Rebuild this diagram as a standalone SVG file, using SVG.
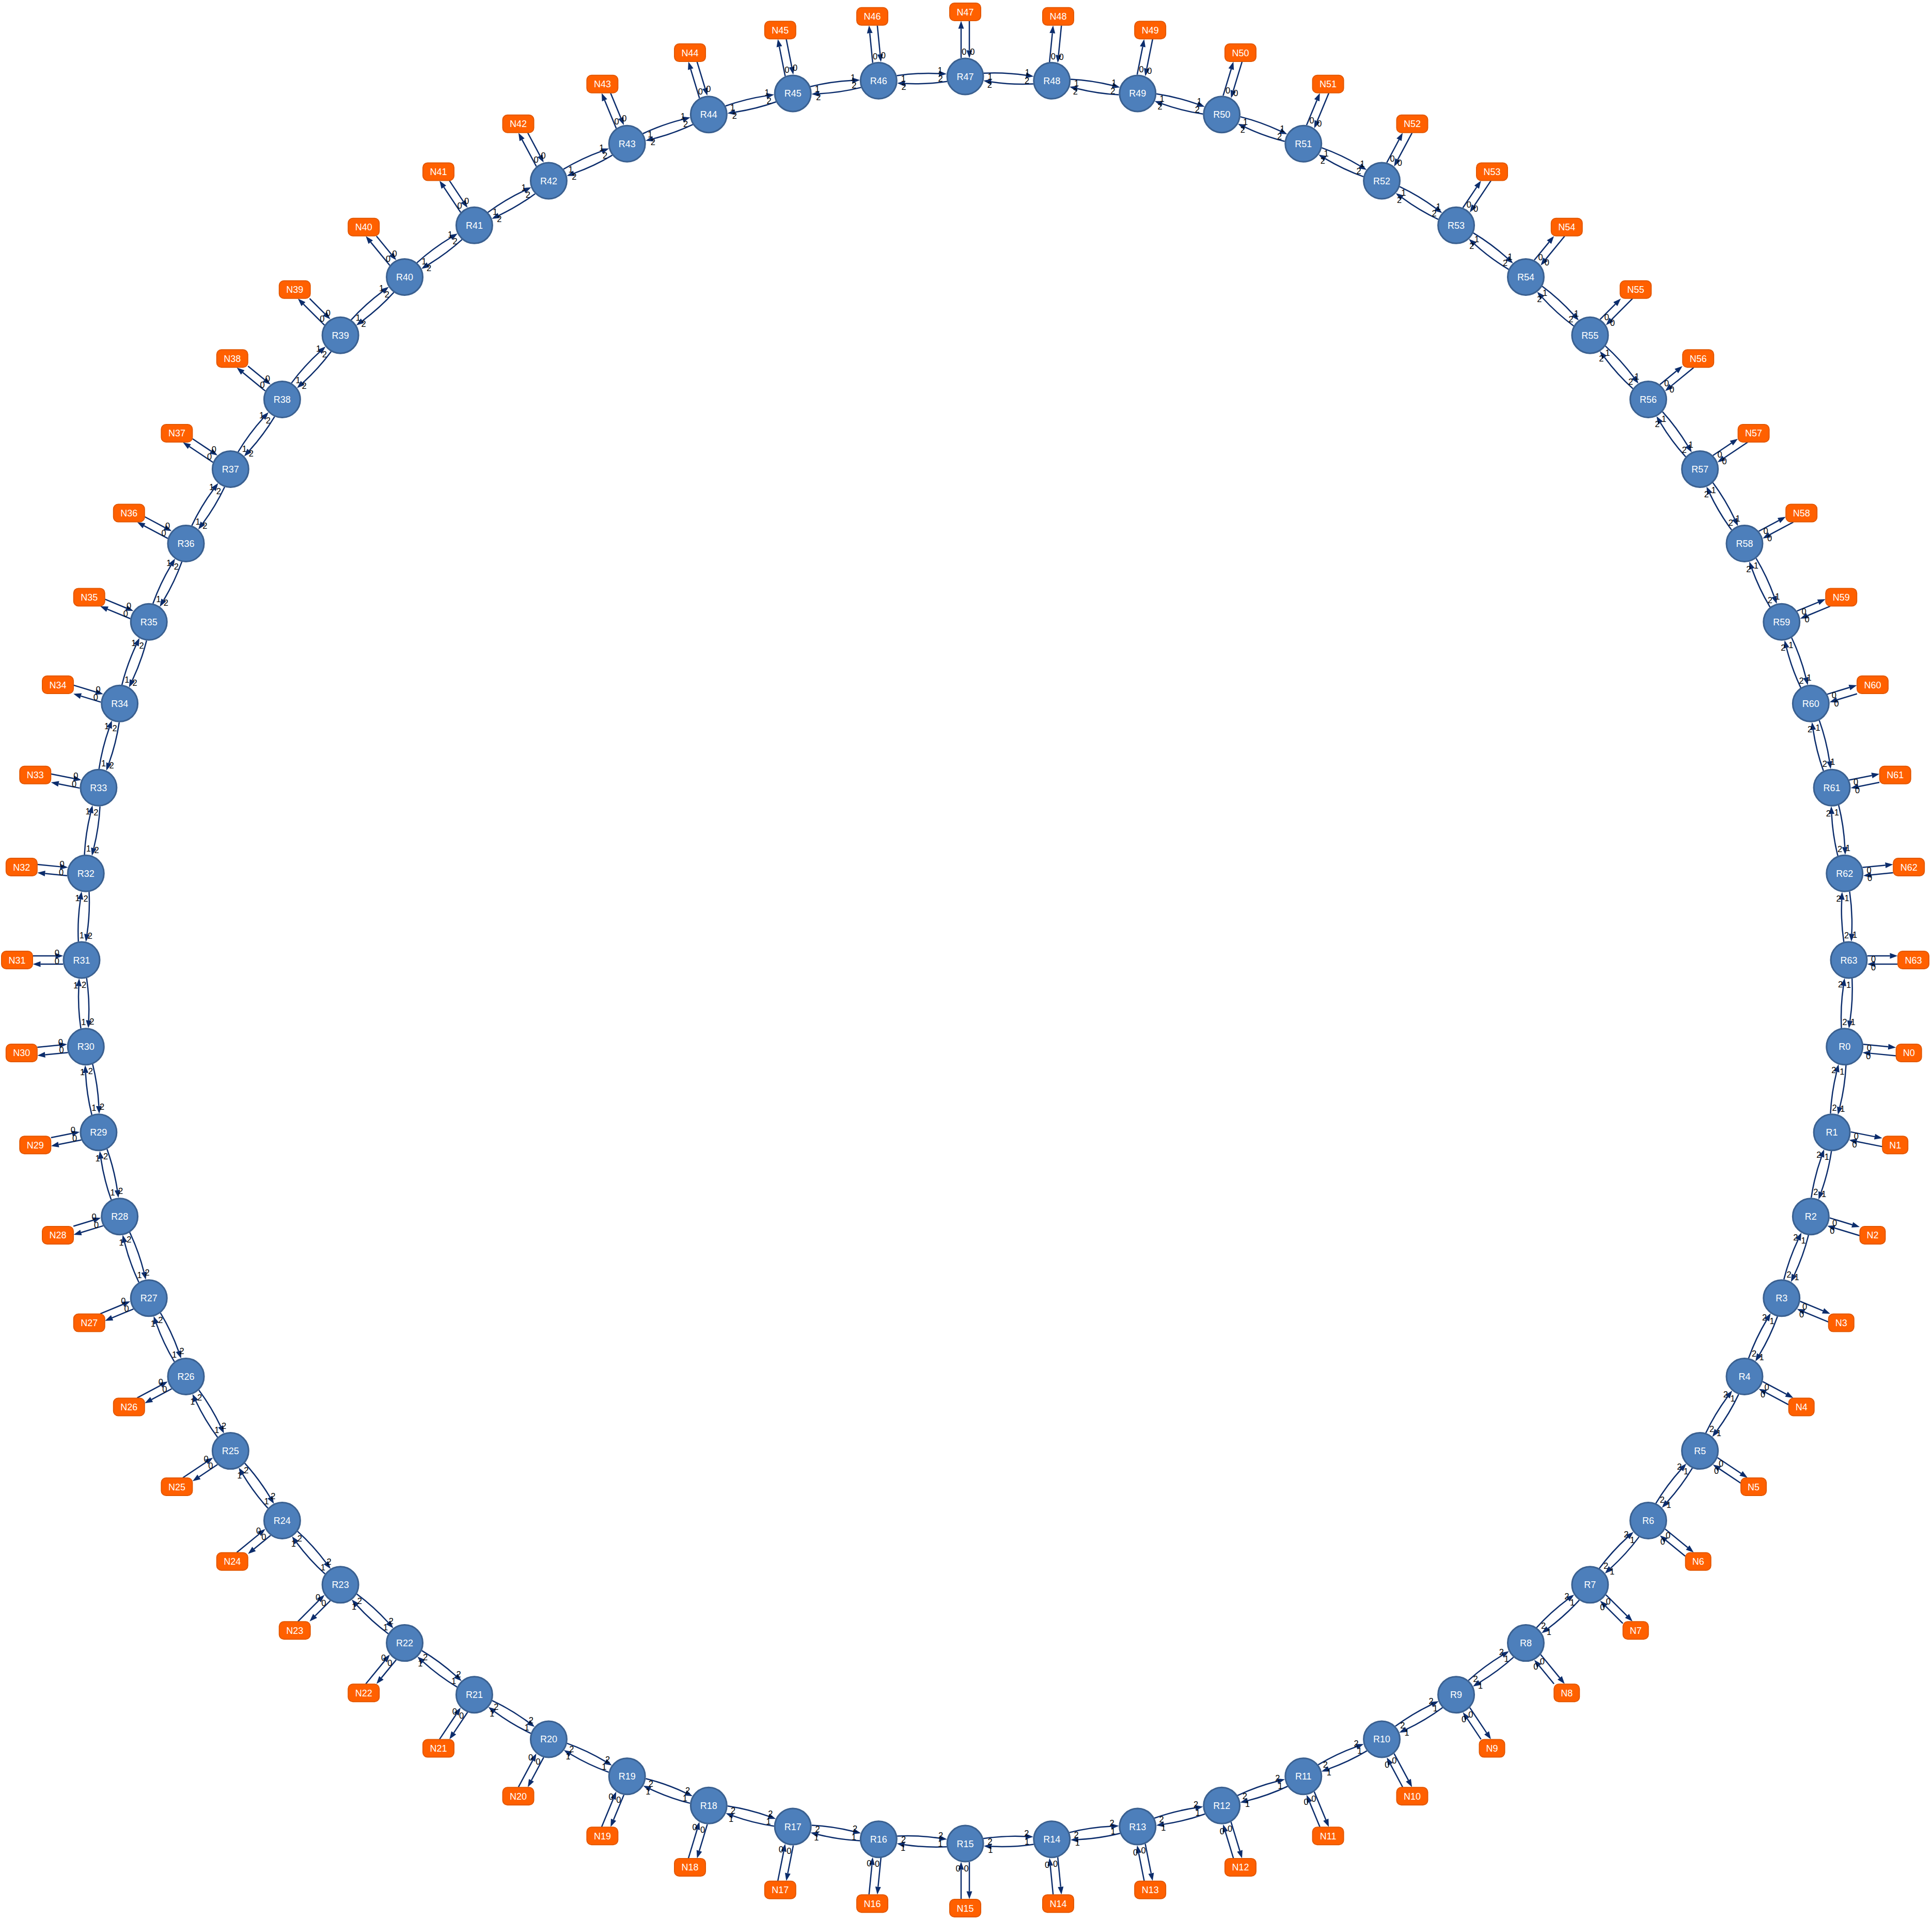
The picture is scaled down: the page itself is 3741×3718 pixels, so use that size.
<svg xmlns="http://www.w3.org/2000/svg" width="3741" height="3718" viewBox="0 0 3741 3718">
<defs>
<marker id="ah" markerUnits="userSpaceOnUse" markerWidth="15" markerHeight="11" viewBox="0 0 15 11" refX="0" refY="5.5" orient="auto" overflow="visible"><path d="M0,0 L15,5.5 L0,11 Z" fill="#0c2d6c"/></marker>
</defs>
<style>
.r circle{fill:#4d7fbb;stroke:#3a6090;stroke-width:3}
.r text,.n text{font-family:"Liberation Sans",Arial,sans-serif;font-size:18px;fill:#ffffff;text-anchor:middle}
.n rect{fill:#ff6000;stroke:#e35700;stroke-width:2}
.e{fill:none;stroke:#0c2d6c;stroke-width:2.5;marker-end:url(#ah)}
#connectors text{font-family:"Liberation Sans",Arial,sans-serif;font-size:16.5px;fill:#000000;text-anchor:middle}
</style>
<rect width="3741" height="3718" fill="#ffffff"/>
<g id="connectors" transform="translate(1869 1859)">
<g transform="rotate(5.625)"><path class="e" d="M1717.25,35.85Q1719.24,76.96 1713.23,117.67"/><path class="e" d="M1696.51,131.86Q1694.52,90.75 1700.53,50.04"/><path class="e" d="M1746.6,-8H1795.1"/><path class="e" d="M1811.7,8H1761.6"/><text y="6" transform="translate(1710.7 48.2) rotate(-5.625)">1</text><text y="6" transform="translate(1719 120.3) rotate(-5.625)">1</text><text y="6" transform="translate(1703 119.5) rotate(-5.625)">2</text><text y="6" transform="translate(1694.7 47.4) rotate(-5.625)">2</text><text y="6" transform="translate(1758.7 -2.1) rotate(-5.625)">0</text><text y="6" transform="translate(1758.7 13.9) rotate(-5.625)">0</text></g>
<g transform="rotate(11.25)"><path class="e" d="M1717.25,35.85Q1719.24,76.96 1713.23,117.67"/><path class="e" d="M1696.51,131.86Q1694.52,90.75 1700.53,50.04"/><path class="e" d="M1746.6,-8H1793.9"/><path class="e" d="M1812.1,8H1761.6"/><text y="6" transform="translate(1710.7 48.2) rotate(-11.25)">1</text><text y="6" transform="translate(1719 120.3) rotate(-11.25)">1</text><text y="6" transform="translate(1703 119.5) rotate(-11.25)">2</text><text y="6" transform="translate(1694.7 47.4) rotate(-11.25)">2</text><text y="6" transform="translate(1758.7 -2.1) rotate(-11.25)">0</text><text y="6" transform="translate(1758.7 13.9) rotate(-11.25)">0</text></g>
<g transform="rotate(16.875)"><path class="e" d="M1717.25,35.85Q1719.24,76.96 1713.23,117.67"/><path class="e" d="M1696.51,131.86Q1694.52,90.75 1700.53,50.04"/><path class="e" d="M1746.6,-8H1792.5"/><path class="e" d="M1812.3,8H1761.6"/><text y="6" transform="translate(1710.7 48.2) rotate(-16.875)">1</text><text y="6" transform="translate(1719 120.3) rotate(-16.875)">1</text><text y="6" transform="translate(1703 119.5) rotate(-16.875)">2</text><text y="6" transform="translate(1694.7 47.4) rotate(-16.875)">2</text><text y="6" transform="translate(1758.7 -2.1) rotate(-16.875)">0</text><text y="6" transform="translate(1758.7 13.9) rotate(-16.875)">0</text></g>
<g transform="rotate(22.5)"><path class="e" d="M1717.25,35.85Q1719.24,76.96 1713.23,117.67"/><path class="e" d="M1696.51,131.86Q1694.52,90.75 1700.53,50.04"/><path class="e" d="M1746.6,-8H1794.6"/><path class="e" d="M1812.3,8H1761.6"/><text y="6" transform="translate(1710.7 48.2) rotate(-22.5)">1</text><text y="6" transform="translate(1719 120.3) rotate(-22.5)">1</text><text y="6" transform="translate(1703 119.5) rotate(-22.5)">2</text><text y="6" transform="translate(1694.7 47.4) rotate(-22.5)">2</text><text y="6" transform="translate(1758.7 -2.1) rotate(-22.5)">0</text><text y="6" transform="translate(1758.7 13.9) rotate(-22.5)">0</text></g>
<g transform="rotate(28.125)"><path class="e" d="M1717.25,35.85Q1719.24,76.96 1713.23,117.67"/><path class="e" d="M1696.51,131.86Q1694.52,90.75 1700.53,50.04"/><path class="e" d="M1746.6,-8H1798.8"/><path class="e" d="M1811.9,8H1761.6"/><text y="6" transform="translate(1710.7 48.2) rotate(-28.125)">1</text><text y="6" transform="translate(1719 120.3) rotate(-28.125)">1</text><text y="6" transform="translate(1703 119.5) rotate(-28.125)">2</text><text y="6" transform="translate(1694.7 47.4) rotate(-28.125)">2</text><text y="6" transform="translate(1758.7 -2.1) rotate(-28.125)">0</text><text y="6" transform="translate(1758.7 13.9) rotate(-28.125)">0</text></g>
<g transform="rotate(33.75)"><path class="e" d="M1717.25,35.85Q1719.24,76.96 1713.23,117.67"/><path class="e" d="M1696.51,131.86Q1694.52,90.75 1700.53,50.04"/><path class="e" d="M1746.6,-8H1801.5"/><path class="e" d="M1811.3,8H1761.6"/><text y="6" transform="translate(1710.7 48.2) rotate(-33.75)">1</text><text y="6" transform="translate(1719 120.3) rotate(-33.75)">1</text><text y="6" transform="translate(1703 119.5) rotate(-33.75)">2</text><text y="6" transform="translate(1694.7 47.4) rotate(-33.75)">2</text><text y="6" transform="translate(1758.7 -2.1) rotate(-33.75)">0</text><text y="6" transform="translate(1758.7 13.9) rotate(-33.75)">0</text></g>
<g transform="rotate(39.375)"><path class="e" d="M1717.25,35.85Q1719.24,76.96 1713.23,117.67"/><path class="e" d="M1696.51,131.86Q1694.52,90.75 1700.53,50.04"/><path class="e" d="M1746.6,-8H1803.2"/><path class="e" d="M1810.2,8H1761.6"/><text y="6" transform="translate(1710.7 48.2) rotate(-39.375)">1</text><text y="6" transform="translate(1719 120.3) rotate(-39.375)">1</text><text y="6" transform="translate(1703 119.5) rotate(-39.375)">2</text><text y="6" transform="translate(1694.7 47.4) rotate(-39.375)">2</text><text y="6" transform="translate(1758.7 -2.1) rotate(-39.375)">0</text><text y="6" transform="translate(1758.7 13.9) rotate(-39.375)">0</text></g>
<g transform="rotate(45)"><path class="e" d="M1717.25,35.85Q1719.24,76.96 1713.23,117.67"/><path class="e" d="M1696.51,131.86Q1694.52,90.75 1700.53,50.04"/><path class="e" d="M1746.6,-8H1804.3"/><path class="e" d="M1808.7,8H1761.6"/><text y="6" transform="translate(1710.7 48.2) rotate(-45)">1</text><text y="6" transform="translate(1719 120.3) rotate(-45)">1</text><text y="6" transform="translate(1703 119.5) rotate(-45)">2</text><text y="6" transform="translate(1694.7 47.4) rotate(-45)">2</text><text y="6" transform="translate(1758.7 -2.1) rotate(-45)">0</text><text y="6" transform="translate(1758.7 13.9) rotate(-45)">0</text></g>
<g transform="rotate(50.625)"><path class="e" d="M1717.25,35.85Q1719.24,76.96 1713.23,117.67"/><path class="e" d="M1696.51,131.86Q1694.52,90.75 1700.53,50.04"/><path class="e" d="M1746.6,-8H1804.9"/><path class="e" d="M1806.8,8H1761.6"/><text y="6" transform="translate(1710.7 48.2) rotate(-50.625)">1</text><text y="6" transform="translate(1719 120.3) rotate(-50.625)">1</text><text y="6" transform="translate(1703 119.5) rotate(-50.625)">2</text><text y="6" transform="translate(1694.7 47.4) rotate(-50.625)">2</text><text y="6" transform="translate(1758.7 -2.1) rotate(-50.625)">0</text><text y="6" transform="translate(1758.7 13.9) rotate(-50.625)">0</text></g>
<g transform="rotate(56.25)"><path class="e" d="M1717.25,35.85Q1719.24,76.96 1713.23,117.67"/><path class="e" d="M1696.51,131.86Q1694.52,90.75 1700.53,50.04"/><path class="e" d="M1746.6,-8H1805.3"/><path class="e" d="M1809.6,8H1761.6"/><text y="6" transform="translate(1710.7 48.2) rotate(-56.25)">1</text><text y="6" transform="translate(1719 120.3) rotate(-56.25)">1</text><text y="6" transform="translate(1703 119.5) rotate(-56.25)">2</text><text y="6" transform="translate(1694.7 47.4) rotate(-56.25)">2</text><text y="6" transform="translate(1758.7 -2.1) rotate(-56.25)">0</text><text y="6" transform="translate(1758.7 13.9) rotate(-56.25)">0</text></g>
<g transform="rotate(61.875)"><path class="e" d="M1717.25,35.85Q1719.24,76.96 1713.23,117.67"/><path class="e" d="M1696.51,131.86Q1694.52,90.75 1700.53,50.04"/><path class="e" d="M1746.6,-8H1805.4"/><path class="e" d="M1811.9,8H1761.6"/><text y="6" transform="translate(1710.7 48.2) rotate(-61.875)">1</text><text y="6" transform="translate(1719 120.3) rotate(-61.875)">1</text><text y="6" transform="translate(1703 119.5) rotate(-61.875)">2</text><text y="6" transform="translate(1694.7 47.4) rotate(-61.875)">2</text><text y="6" transform="translate(1758.7 -2.1) rotate(-61.875)">0</text><text y="6" transform="translate(1758.7 13.9) rotate(-61.875)">0</text></g>
<g transform="rotate(67.5)"><path class="e" d="M1717.25,35.85Q1719.24,76.96 1713.23,117.67"/><path class="e" d="M1696.51,131.86Q1694.52,90.75 1700.53,50.04"/><path class="e" d="M1746.6,-8H1805.4"/><path class="e" d="M1813.7,8H1761.6"/><text y="6" transform="translate(1710.7 48.2) rotate(-67.5)">1</text><text y="6" transform="translate(1719 120.3) rotate(-67.5)">1</text><text y="6" transform="translate(1703 119.5) rotate(-67.5)">2</text><text y="6" transform="translate(1694.7 47.4) rotate(-67.5)">2</text><text y="6" transform="translate(1758.7 -2.1) rotate(-67.5)">0</text><text y="6" transform="translate(1758.7 13.9) rotate(-67.5)">0</text></g>
<g transform="rotate(73.125)"><path class="e" d="M1717.25,35.85Q1719.24,76.96 1713.23,117.67"/><path class="e" d="M1696.51,131.86Q1694.52,90.75 1700.53,50.04"/><path class="e" d="M1746.6,-8H1805.1"/><path class="e" d="M1815.3,8H1761.6"/><text y="6" transform="translate(1710.7 48.2) rotate(-73.125)">1</text><text y="6" transform="translate(1719 120.3) rotate(-73.125)">1</text><text y="6" transform="translate(1703 119.5) rotate(-73.125)">2</text><text y="6" transform="translate(1694.7 47.4) rotate(-73.125)">2</text><text y="6" transform="translate(1758.7 -2.1) rotate(-73.125)">0</text><text y="6" transform="translate(1758.7 13.9) rotate(-73.125)">0</text></g>
<g transform="rotate(78.75)"><path class="e" d="M1717.25,35.85Q1719.24,76.96 1713.23,117.67"/><path class="e" d="M1696.51,131.86Q1694.52,90.75 1700.53,50.04"/><path class="e" d="M1746.6,-8H1804.8"/><path class="e" d="M1816.6,8H1761.6"/><text y="6" transform="translate(1710.7 48.2) rotate(-78.75)">1</text><text y="6" transform="translate(1719 120.3) rotate(-78.75)">1</text><text y="6" transform="translate(1703 119.5) rotate(-78.75)">2</text><text y="6" transform="translate(1694.7 47.4) rotate(-78.75)">2</text><text y="6" transform="translate(1758.7 -2.1) rotate(-78.75)">0</text><text y="6" transform="translate(1758.7 13.9) rotate(-78.75)">0</text></g>
<g transform="rotate(84.375)"><path class="e" d="M1717.25,35.85Q1719.24,76.96 1713.23,117.67"/><path class="e" d="M1696.51,131.86Q1694.52,90.75 1700.53,50.04"/><path class="e" d="M1746.6,-8H1804.2"/><path class="e" d="M1817.6,8H1761.6"/><text y="6" transform="translate(1710.7 48.2) rotate(-84.375)">1</text><text y="6" transform="translate(1719 120.3) rotate(-84.375)">1</text><text y="6" transform="translate(1703 119.5) rotate(-84.375)">2</text><text y="6" transform="translate(1694.7 47.4) rotate(-84.375)">2</text><text y="6" transform="translate(1758.7 -2.1) rotate(-84.375)">0</text><text y="6" transform="translate(1758.7 13.9) rotate(-84.375)">0</text></g>
<g transform="rotate(90)"><path class="e" d="M1717.25,35.85Q1719.24,76.96 1713.23,117.67"/><path class="e" d="M1696.51,131.86Q1694.52,90.75 1700.53,50.04"/><path class="e" d="M1746.6,-8H1803.5"/><path class="e" d="M1818.5,8H1761.6"/><text y="6" transform="translate(1710.7 48.2) rotate(-90)">1</text><text y="6" transform="translate(1719 120.3) rotate(-90)">1</text><text y="6" transform="translate(1703 119.5) rotate(-90)">2</text><text y="6" transform="translate(1694.7 47.4) rotate(-90)">2</text><text y="6" transform="translate(1758.7 -2.1) rotate(-90)">0</text><text y="6" transform="translate(1758.7 13.9) rotate(-90)">0</text></g>
<g transform="rotate(95.625)"><path class="e" d="M1717.25,35.85Q1719.24,76.96 1713.23,117.67"/><path class="e" d="M1696.51,131.86Q1694.52,90.75 1700.53,50.04"/><path class="e" d="M1746.6,-8H1802.6"/><path class="e" d="M1819.2,8H1761.6"/><text y="6" transform="translate(1710.7 48.2) rotate(-95.625)">1</text><text y="6" transform="translate(1719 120.3) rotate(-95.625)">1</text><text y="6" transform="translate(1703 119.5) rotate(-95.625)">2</text><text y="6" transform="translate(1694.7 47.4) rotate(-95.625)">2</text><text y="6" transform="translate(1758.7 -2.1) rotate(-95.625)">0</text><text y="6" transform="translate(1758.7 13.9) rotate(-95.625)">0</text></g>
<g transform="rotate(101.25)"><path class="e" d="M1717.25,35.85Q1719.24,76.96 1713.23,117.67"/><path class="e" d="M1696.51,131.86Q1694.52,90.75 1700.53,50.04"/><path class="e" d="M1746.6,-8H1801.6"/><path class="e" d="M1819.8,8H1761.6"/><text y="6" transform="translate(1710.7 48.2) rotate(-101.25)">1</text><text y="6" transform="translate(1719 120.3) rotate(-101.25)">1</text><text y="6" transform="translate(1703 119.5) rotate(-101.25)">2</text><text y="6" transform="translate(1694.7 47.4) rotate(-101.25)">2</text><text y="6" transform="translate(1758.7 -2.1) rotate(-101.25)">0</text><text y="6" transform="translate(1758.7 13.9) rotate(-101.25)">0</text></g>
<g transform="rotate(106.875)"><path class="e" d="M1717.25,35.85Q1719.24,76.96 1713.23,117.67"/><path class="e" d="M1696.51,131.86Q1694.52,90.75 1700.53,50.04"/><path class="e" d="M1746.6,-8H1800.3"/><path class="e" d="M1820.1,8H1761.6"/><text y="6" transform="translate(1710.7 48.2) rotate(-106.875)">1</text><text y="6" transform="translate(1719 120.3) rotate(-106.875)">1</text><text y="6" transform="translate(1703 119.5) rotate(-106.875)">2</text><text y="6" transform="translate(1694.7 47.4) rotate(-106.875)">2</text><text y="6" transform="translate(1758.7 -2.1) rotate(-106.875)">0</text><text y="6" transform="translate(1758.7 13.9) rotate(-106.875)">0</text></g>
<g transform="rotate(112.5)"><path class="e" d="M1717.25,35.85Q1719.24,76.96 1713.23,117.67"/><path class="e" d="M1696.51,131.86Q1694.52,90.75 1700.53,50.04"/><path class="e" d="M1746.6,-8H1798.7"/><path class="e" d="M1820.4,8H1761.6"/><text y="6" transform="translate(1710.7 48.2) rotate(-112.5)">1</text><text y="6" transform="translate(1719 120.3) rotate(-112.5)">1</text><text y="6" transform="translate(1703 119.5) rotate(-112.5)">2</text><text y="6" transform="translate(1694.7 47.4) rotate(-112.5)">2</text><text y="6" transform="translate(1758.7 -2.1) rotate(-112.5)">0</text><text y="6" transform="translate(1758.7 13.9) rotate(-112.5)">0</text></g>
<g transform="rotate(118.125)"><path class="e" d="M1717.25,35.85Q1719.24,76.96 1713.23,117.67"/><path class="e" d="M1696.51,131.86Q1694.52,90.75 1700.53,50.04"/><path class="e" d="M1746.6,-8H1796.9"/><path class="e" d="M1820.4,8H1761.6"/><text y="6" transform="translate(1710.7 48.2) rotate(-118.125)">1</text><text y="6" transform="translate(1719 120.3) rotate(-118.125)">1</text><text y="6" transform="translate(1703 119.5) rotate(-118.125)">2</text><text y="6" transform="translate(1694.7 47.4) rotate(-118.125)">2</text><text y="6" transform="translate(1758.7 -2.1) rotate(-118.125)">0</text><text y="6" transform="translate(1758.7 13.9) rotate(-118.125)">0</text></g>
<g transform="rotate(123.75)"><path class="e" d="M1717.25,35.85Q1719.24,76.96 1713.23,117.67"/><path class="e" d="M1696.51,131.86Q1694.52,90.75 1700.53,50.04"/><path class="e" d="M1746.6,-8H1794.6"/><path class="e" d="M1820.3,8H1761.6"/><text y="6" transform="translate(1710.7 48.2) rotate(-123.75)">1</text><text y="6" transform="translate(1719 120.3) rotate(-123.75)">1</text><text y="6" transform="translate(1703 119.5) rotate(-123.75)">2</text><text y="6" transform="translate(1694.7 47.4) rotate(-123.75)">2</text><text y="6" transform="translate(1758.7 -2.1) rotate(-123.75)">0</text><text y="6" transform="translate(1758.7 13.9) rotate(-123.75)">0</text></g>
<g transform="rotate(129.375)"><path class="e" d="M1717.25,35.85Q1719.24,76.96 1713.23,117.67"/><path class="e" d="M1696.51,131.86Q1694.52,90.75 1700.53,50.04"/><path class="e" d="M1746.6,-8H1791.8"/><path class="e" d="M1819.9,8H1761.6"/><text y="6" transform="translate(1710.7 48.2) rotate(-129.375)">1</text><text y="6" transform="translate(1719 120.3) rotate(-129.375)">1</text><text y="6" transform="translate(1703 119.5) rotate(-129.375)">2</text><text y="6" transform="translate(1694.7 47.4) rotate(-129.375)">2</text><text y="6" transform="translate(1758.7 -2.1) rotate(-129.375)">0</text><text y="6" transform="translate(1758.7 13.9) rotate(-129.375)">0</text></g>
<g transform="rotate(135)"><path class="e" d="M1717.25,35.85Q1719.24,76.96 1713.23,117.67"/><path class="e" d="M1696.51,131.86Q1694.52,90.75 1700.53,50.04"/><path class="e" d="M1746.6,-8H1788.3"/><path class="e" d="M1819.3,8H1761.6"/><text y="6" transform="translate(1710.7 48.2) rotate(-135)">1</text><text y="6" transform="translate(1719 120.3) rotate(-135)">1</text><text y="6" transform="translate(1703 119.5) rotate(-135)">2</text><text y="6" transform="translate(1694.7 47.4) rotate(-135)">2</text><text y="6" transform="translate(1758.7 -2.1) rotate(-135)">0</text><text y="6" transform="translate(1758.7 13.9) rotate(-135)">0</text></g>
<g transform="rotate(140.625)"><path class="e" d="M1717.25,35.85Q1719.24,76.96 1713.23,117.67"/><path class="e" d="M1696.51,131.86Q1694.52,90.75 1700.53,50.04"/><path class="e" d="M1746.6,-8H1788.1"/><path class="e" d="M1818.2,8H1761.6"/><text y="6" transform="translate(1710.7 48.2) rotate(-140.625)">1</text><text y="6" transform="translate(1719 120.3) rotate(-140.625)">1</text><text y="6" transform="translate(1703 119.5) rotate(-140.625)">2</text><text y="6" transform="translate(1694.7 47.4) rotate(-140.625)">2</text><text y="6" transform="translate(1758.7 -2.1) rotate(-140.625)">0</text><text y="6" transform="translate(1758.7 13.9) rotate(-140.625)">0</text></g>
<g transform="rotate(146.25)"><path class="e" d="M1717.25,35.85Q1719.24,76.96 1713.23,117.67"/><path class="e" d="M1696.51,131.86Q1694.52,90.75 1700.53,50.04"/><path class="e" d="M1746.6,-8H1789.7"/><path class="e" d="M1816.5,8H1761.6"/><text y="6" transform="translate(1710.7 48.2) rotate(-146.25)">1</text><text y="6" transform="translate(1719 120.3) rotate(-146.25)">1</text><text y="6" transform="translate(1703 119.5) rotate(-146.25)">2</text><text y="6" transform="translate(1694.7 47.4) rotate(-146.25)">2</text><text y="6" transform="translate(1758.7 -2.1) rotate(-146.25)">0</text><text y="6" transform="translate(1758.7 13.9) rotate(-146.25)">0</text></g>
<g transform="rotate(151.875)"><path class="e" d="M1717.25,35.85Q1719.24,76.96 1713.23,117.67"/><path class="e" d="M1696.51,131.86Q1694.52,90.75 1700.53,50.04"/><path class="e" d="M1746.6,-8H1790.7"/><path class="e" d="M1813.8,8H1761.6"/><text y="6" transform="translate(1710.7 48.2) rotate(-151.875)">1</text><text y="6" transform="translate(1719 120.3) rotate(-151.875)">1</text><text y="6" transform="translate(1703 119.5) rotate(-151.875)">2</text><text y="6" transform="translate(1694.7 47.4) rotate(-151.875)">2</text><text y="6" transform="translate(1758.7 -2.1) rotate(-151.875)">0</text><text y="6" transform="translate(1758.7 13.9) rotate(-151.875)">0</text></g>
<g transform="rotate(157.5)"><path class="e" d="M1717.25,35.85Q1719.24,76.96 1713.23,117.67"/><path class="e" d="M1696.51,131.86Q1694.52,90.75 1700.53,50.04"/><path class="e" d="M1746.6,-8H1791.3"/><path class="e" d="M1809.6,8H1761.6"/><text y="6" transform="translate(1710.7 48.2) rotate(-157.5)">1</text><text y="6" transform="translate(1719 120.3) rotate(-157.5)">1</text><text y="6" transform="translate(1703 119.5) rotate(-157.5)">2</text><text y="6" transform="translate(1694.7 47.4) rotate(-157.5)">2</text><text y="6" transform="translate(1758.7 -2.1) rotate(-157.5)">0</text><text y="6" transform="translate(1758.7 13.9) rotate(-157.5)">0</text></g>
<g transform="rotate(163.125)"><path class="e" d="M1717.25,35.85Q1719.24,76.96 1713.23,117.67"/><path class="e" d="M1696.51,131.86Q1694.52,90.75 1700.53,50.04"/><path class="e" d="M1746.6,-8H1791.6"/><path class="e" d="M1802.1,8H1761.6"/><text y="6" transform="translate(1710.7 48.2) rotate(-163.125)">1</text><text y="6" transform="translate(1719 120.3) rotate(-163.125)">1</text><text y="6" transform="translate(1703 119.5) rotate(-163.125)">2</text><text y="6" transform="translate(1694.7 47.4) rotate(-163.125)">2</text><text y="6" transform="translate(1758.7 -2.1) rotate(-163.125)">0</text><text y="6" transform="translate(1758.7 13.9) rotate(-163.125)">0</text></g>
<g transform="rotate(168.75)"><path class="e" d="M1717.25,35.85Q1719.24,76.96 1713.23,117.67"/><path class="e" d="M1696.51,131.86Q1694.52,90.75 1700.53,50.04"/><path class="e" d="M1746.6,-8H1791.5"/><path class="e" d="M1803.3,8H1761.6"/><text y="6" transform="translate(1710.7 48.2) rotate(-168.75)">1</text><text y="6" transform="translate(1719 120.3) rotate(-168.75)">1</text><text y="6" transform="translate(1703 119.5) rotate(-168.75)">2</text><text y="6" transform="translate(1694.7 47.4) rotate(-168.75)">2</text><text y="6" transform="translate(1758.7 -2.1) rotate(-168.75)">0</text><text y="6" transform="translate(1758.7 13.9) rotate(-168.75)">0</text></g>
<g transform="rotate(174.375)"><path class="e" d="M1717.25,35.85Q1719.24,76.96 1713.23,117.67"/><path class="e" d="M1696.51,131.86Q1694.52,90.75 1700.53,50.04"/><path class="e" d="M1746.6,-8H1791.1"/><path class="e" d="M1804.6,8H1761.6"/><text y="6" transform="translate(1710.7 48.2) rotate(-174.375)">1</text><text y="6" transform="translate(1719 120.3) rotate(-174.375)">1</text><text y="6" transform="translate(1703 119.5) rotate(-174.375)">2</text><text y="6" transform="translate(1694.7 47.4) rotate(-174.375)">2</text><text y="6" transform="translate(1758.7 -2.1) rotate(-174.375)">0</text><text y="6" transform="translate(1758.7 13.9) rotate(-174.375)">0</text></g>
<g transform="rotate(180)"><path class="e" d="M1717.25,35.85Q1719.24,76.96 1713.23,117.67"/><path class="e" d="M1696.51,131.86Q1694.52,90.75 1700.53,50.04"/><path class="e" d="M1746.6,-8H1790.5"/><path class="e" d="M1805.5,8H1761.6"/><text y="6" transform="translate(1710.7 48.2) rotate(-180)">1</text><text y="6" transform="translate(1719 120.3) rotate(-180)">1</text><text y="6" transform="translate(1703 119.5) rotate(-180)">2</text><text y="6" transform="translate(1694.7 47.4) rotate(-180)">2</text><text y="6" transform="translate(1758.7 -2.1) rotate(-180)">0</text><text y="6" transform="translate(1758.7 13.9) rotate(-180)">0</text></g>
<g transform="rotate(185.625)"><path class="e" d="M1717.25,35.85Q1719.24,76.96 1713.23,117.67"/><path class="e" d="M1696.51,131.86Q1694.52,90.75 1700.53,50.04"/><path class="e" d="M1746.6,-8H1789.6"/><path class="e" d="M1806.1,8H1761.6"/><text y="6" transform="translate(1710.7 48.2) rotate(-185.625)">1</text><text y="6" transform="translate(1719 120.3) rotate(-185.625)">1</text><text y="6" transform="translate(1703 119.5) rotate(-185.625)">2</text><text y="6" transform="translate(1694.7 47.4) rotate(-185.625)">2</text><text y="6" transform="translate(1758.7 -2.1) rotate(-185.625)">0</text><text y="6" transform="translate(1758.7 13.9) rotate(-185.625)">0</text></g>
<g transform="rotate(191.25)"><path class="e" d="M1717.25,35.85Q1719.24,76.96 1713.23,117.67"/><path class="e" d="M1696.51,131.86Q1694.52,90.75 1700.53,50.04"/><path class="e" d="M1746.6,-8H1788.3"/><path class="e" d="M1806.5,8H1761.6"/><text y="6" transform="translate(1710.7 48.2) rotate(-191.25)">1</text><text y="6" transform="translate(1719 120.3) rotate(-191.25)">1</text><text y="6" transform="translate(1703 119.5) rotate(-191.25)">2</text><text y="6" transform="translate(1694.7 47.4) rotate(-191.25)">2</text><text y="6" transform="translate(1758.7 -2.1) rotate(-191.25)">0</text><text y="6" transform="translate(1758.7 13.9) rotate(-191.25)">0</text></g>
<g transform="rotate(196.875)"><path class="e" d="M1717.25,35.85Q1719.24,76.96 1713.23,117.67"/><path class="e" d="M1696.51,131.86Q1694.52,90.75 1700.53,50.04"/><path class="e" d="M1746.6,-8H1787.1"/><path class="e" d="M1806.6,8H1761.6"/><text y="6" transform="translate(1710.7 48.2) rotate(-196.875)">1</text><text y="6" transform="translate(1719 120.3) rotate(-196.875)">1</text><text y="6" transform="translate(1703 119.5) rotate(-196.875)">2</text><text y="6" transform="translate(1694.7 47.4) rotate(-196.875)">2</text><text y="6" transform="translate(1758.7 -2.1) rotate(-196.875)">0</text><text y="6" transform="translate(1758.7 13.9) rotate(-196.875)">0</text></g>
<g transform="rotate(202.5)"><path class="e" d="M1717.25,35.85Q1719.24,76.96 1713.23,117.67"/><path class="e" d="M1696.51,131.86Q1694.52,90.75 1700.53,50.04"/><path class="e" d="M1746.6,-8H1794.6"/><path class="e" d="M1806.3,8H1761.6"/><text y="6" transform="translate(1710.7 48.2) rotate(-202.5)">1</text><text y="6" transform="translate(1719 120.3) rotate(-202.5)">1</text><text y="6" transform="translate(1703 119.5) rotate(-202.5)">2</text><text y="6" transform="translate(1694.7 47.4) rotate(-202.5)">2</text><text y="6" transform="translate(1758.7 -2.1) rotate(-202.5)">0</text><text y="6" transform="translate(1758.7 13.9) rotate(-202.5)">0</text></g>
<g transform="rotate(208.125)"><path class="e" d="M1717.25,35.85Q1719.24,76.96 1713.23,117.67"/><path class="e" d="M1696.51,131.86Q1694.52,90.75 1700.53,50.04"/><path class="e" d="M1746.6,-8H1798.8"/><path class="e" d="M1805.7,8H1761.6"/><text y="6" transform="translate(1710.7 48.2) rotate(-208.125)">1</text><text y="6" transform="translate(1719 120.3) rotate(-208.125)">1</text><text y="6" transform="translate(1703 119.5) rotate(-208.125)">2</text><text y="6" transform="translate(1694.7 47.4) rotate(-208.125)">2</text><text y="6" transform="translate(1758.7 -2.1) rotate(-208.125)">0</text><text y="6" transform="translate(1758.7 13.9) rotate(-208.125)">0</text></g>
<g transform="rotate(213.75)"><path class="e" d="M1717.25,35.85Q1719.24,76.96 1713.23,117.67"/><path class="e" d="M1696.51,131.86Q1694.52,90.75 1700.53,50.04"/><path class="e" d="M1746.6,-8H1801.5"/><path class="e" d="M1804.7,8H1761.6"/><text y="6" transform="translate(1710.7 48.2) rotate(-213.75)">1</text><text y="6" transform="translate(1719 120.3) rotate(-213.75)">1</text><text y="6" transform="translate(1703 119.5) rotate(-213.75)">2</text><text y="6" transform="translate(1694.7 47.4) rotate(-213.75)">2</text><text y="6" transform="translate(1758.7 -2.1) rotate(-213.75)">0</text><text y="6" transform="translate(1758.7 13.9) rotate(-213.75)">0</text></g>
<g transform="rotate(219.375)"><path class="e" d="M1717.25,35.85Q1719.24,76.96 1713.23,117.67"/><path class="e" d="M1696.51,131.86Q1694.52,90.75 1700.53,50.04"/><path class="e" d="M1746.6,-8H1803.2"/><path class="e" d="M1803.1,8H1761.6"/><text y="6" transform="translate(1710.7 48.2) rotate(-219.375)">1</text><text y="6" transform="translate(1719 120.3) rotate(-219.375)">1</text><text y="6" transform="translate(1703 119.5) rotate(-219.375)">2</text><text y="6" transform="translate(1694.7 47.4) rotate(-219.375)">2</text><text y="6" transform="translate(1758.7 -2.1) rotate(-219.375)">0</text><text y="6" transform="translate(1758.7 13.9) rotate(-219.375)">0</text></g>
<g transform="rotate(225)"><path class="e" d="M1717.25,35.85Q1719.24,76.96 1713.23,117.67"/><path class="e" d="M1696.51,131.86Q1694.52,90.75 1700.53,50.04"/><path class="e" d="M1746.6,-8H1804.3"/><path class="e" d="M1803.3,8H1761.6"/><text y="6" transform="translate(1710.7 48.2) rotate(-225)">1</text><text y="6" transform="translate(1719 120.3) rotate(-225)">1</text><text y="6" transform="translate(1703 119.5) rotate(-225)">2</text><text y="6" transform="translate(1694.7 47.4) rotate(-225)">2</text><text y="6" transform="translate(1758.7 -2.1) rotate(-225)">0</text><text y="6" transform="translate(1758.7 13.9) rotate(-225)">0</text></g>
<g transform="rotate(230.625)"><path class="e" d="M1717.25,35.85Q1719.24,76.96 1713.23,117.67"/><path class="e" d="M1696.51,131.86Q1694.52,90.75 1700.53,50.04"/><path class="e" d="M1746.6,-8H1804.9"/><path class="e" d="M1806.8,8H1761.6"/><text y="6" transform="translate(1710.7 48.2) rotate(-230.625)">1</text><text y="6" transform="translate(1719 120.3) rotate(-230.625)">1</text><text y="6" transform="translate(1703 119.5) rotate(-230.625)">2</text><text y="6" transform="translate(1694.7 47.4) rotate(-230.625)">2</text><text y="6" transform="translate(1758.7 -2.1) rotate(-230.625)">0</text><text y="6" transform="translate(1758.7 13.9) rotate(-230.625)">0</text></g>
<g transform="rotate(236.25)"><path class="e" d="M1717.25,35.85Q1719.24,76.96 1713.23,117.67"/><path class="e" d="M1696.51,131.86Q1694.52,90.75 1700.53,50.04"/><path class="e" d="M1746.6,-8H1805.3"/><path class="e" d="M1809.6,8H1761.6"/><text y="6" transform="translate(1710.7 48.2) rotate(-236.25)">1</text><text y="6" transform="translate(1719 120.3) rotate(-236.25)">1</text><text y="6" transform="translate(1703 119.5) rotate(-236.25)">2</text><text y="6" transform="translate(1694.7 47.4) rotate(-236.25)">2</text><text y="6" transform="translate(1758.7 -2.1) rotate(-236.25)">0</text><text y="6" transform="translate(1758.7 13.9) rotate(-236.25)">0</text></g>
<g transform="rotate(241.875)"><path class="e" d="M1717.25,35.85Q1719.24,76.96 1713.23,117.67"/><path class="e" d="M1696.51,131.86Q1694.52,90.75 1700.53,50.04"/><path class="e" d="M1746.6,-8H1805.4"/><path class="e" d="M1811.9,8H1761.6"/><text y="6" transform="translate(1710.7 48.2) rotate(-241.875)">1</text><text y="6" transform="translate(1719 120.3) rotate(-241.875)">1</text><text y="6" transform="translate(1703 119.5) rotate(-241.875)">2</text><text y="6" transform="translate(1694.7 47.4) rotate(-241.875)">2</text><text y="6" transform="translate(1758.7 -2.1) rotate(-241.875)">0</text><text y="6" transform="translate(1758.7 13.9) rotate(-241.875)">0</text></g>
<g transform="rotate(247.5)"><path class="e" d="M1717.25,35.85Q1719.24,76.96 1713.23,117.67"/><path class="e" d="M1696.51,131.86Q1694.52,90.75 1700.53,50.04"/><path class="e" d="M1746.6,-8H1805.4"/><path class="e" d="M1813.7,8H1761.6"/><text y="6" transform="translate(1710.7 48.2) rotate(-247.5)">1</text><text y="6" transform="translate(1719 120.3) rotate(-247.5)">1</text><text y="6" transform="translate(1703 119.5) rotate(-247.5)">2</text><text y="6" transform="translate(1694.7 47.4) rotate(-247.5)">2</text><text y="6" transform="translate(1758.7 -2.1) rotate(-247.5)">0</text><text y="6" transform="translate(1758.7 13.9) rotate(-247.5)">0</text></g>
<g transform="rotate(253.125)"><path class="e" d="M1717.25,35.85Q1719.24,76.96 1713.23,117.67"/><path class="e" d="M1696.51,131.86Q1694.52,90.75 1700.53,50.04"/><path class="e" d="M1746.6,-8H1805.1"/><path class="e" d="M1815.3,8H1761.6"/><text y="6" transform="translate(1710.7 48.2) rotate(-253.125)">1</text><text y="6" transform="translate(1719 120.3) rotate(-253.125)">1</text><text y="6" transform="translate(1703 119.5) rotate(-253.125)">2</text><text y="6" transform="translate(1694.7 47.4) rotate(-253.125)">2</text><text y="6" transform="translate(1758.7 -2.1) rotate(-253.125)">0</text><text y="6" transform="translate(1758.7 13.9) rotate(-253.125)">0</text></g>
<g transform="rotate(258.75)"><path class="e" d="M1717.25,35.85Q1719.24,76.96 1713.23,117.67"/><path class="e" d="M1696.51,131.86Q1694.52,90.75 1700.53,50.04"/><path class="e" d="M1746.6,-8H1804.8"/><path class="e" d="M1816.6,8H1761.6"/><text y="6" transform="translate(1710.7 48.2) rotate(-258.75)">1</text><text y="6" transform="translate(1719 120.3) rotate(-258.75)">1</text><text y="6" transform="translate(1703 119.5) rotate(-258.75)">2</text><text y="6" transform="translate(1694.7 47.4) rotate(-258.75)">2</text><text y="6" transform="translate(1758.7 -2.1) rotate(-258.75)">0</text><text y="6" transform="translate(1758.7 13.9) rotate(-258.75)">0</text></g>
<g transform="rotate(264.375)"><path class="e" d="M1717.25,35.85Q1719.24,76.96 1713.23,117.67"/><path class="e" d="M1696.51,131.86Q1694.52,90.75 1700.53,50.04"/><path class="e" d="M1746.6,-8H1804.2"/><path class="e" d="M1817.6,8H1761.6"/><text y="6" transform="translate(1710.7 48.2) rotate(-264.375)">1</text><text y="6" transform="translate(1719 120.3) rotate(-264.375)">1</text><text y="6" transform="translate(1703 119.5) rotate(-264.375)">2</text><text y="6" transform="translate(1694.7 47.4) rotate(-264.375)">2</text><text y="6" transform="translate(1758.7 -2.1) rotate(-264.375)">0</text><text y="6" transform="translate(1758.7 13.9) rotate(-264.375)">0</text></g>
<g transform="rotate(270)"><path class="e" d="M1717.25,35.85Q1719.24,76.96 1713.23,117.67"/><path class="e" d="M1696.51,131.86Q1694.52,90.75 1700.53,50.04"/><path class="e" d="M1746.6,-8H1803.5"/><path class="e" d="M1818.5,8H1761.6"/><text y="6" transform="translate(1710.7 48.2) rotate(-270)">1</text><text y="6" transform="translate(1719 120.3) rotate(-270)">1</text><text y="6" transform="translate(1703 119.5) rotate(-270)">2</text><text y="6" transform="translate(1694.7 47.4) rotate(-270)">2</text><text y="6" transform="translate(1758.7 -2.1) rotate(-270)">0</text><text y="6" transform="translate(1758.7 13.9) rotate(-270)">0</text></g>
<g transform="rotate(275.625)"><path class="e" d="M1717.25,35.85Q1719.24,76.96 1713.23,117.67"/><path class="e" d="M1696.51,131.86Q1694.52,90.75 1700.53,50.04"/><path class="e" d="M1746.6,-8H1802.6"/><path class="e" d="M1819.2,8H1761.6"/><text y="6" transform="translate(1710.7 48.2) rotate(-275.625)">1</text><text y="6" transform="translate(1719 120.3) rotate(-275.625)">1</text><text y="6" transform="translate(1703 119.5) rotate(-275.625)">2</text><text y="6" transform="translate(1694.7 47.4) rotate(-275.625)">2</text><text y="6" transform="translate(1758.7 -2.1) rotate(-275.625)">0</text><text y="6" transform="translate(1758.7 13.9) rotate(-275.625)">0</text></g>
<g transform="rotate(281.25)"><path class="e" d="M1717.25,35.85Q1719.24,76.96 1713.23,117.67"/><path class="e" d="M1696.51,131.86Q1694.52,90.75 1700.53,50.04"/><path class="e" d="M1746.6,-8H1801.6"/><path class="e" d="M1819.8,8H1761.6"/><text y="6" transform="translate(1710.7 48.2) rotate(-281.25)">1</text><text y="6" transform="translate(1719 120.3) rotate(-281.25)">1</text><text y="6" transform="translate(1703 119.5) rotate(-281.25)">2</text><text y="6" transform="translate(1694.7 47.4) rotate(-281.25)">2</text><text y="6" transform="translate(1758.7 -2.1) rotate(-281.25)">0</text><text y="6" transform="translate(1758.7 13.9) rotate(-281.25)">0</text></g>
<g transform="rotate(286.875)"><path class="e" d="M1717.25,35.85Q1719.24,76.96 1713.23,117.67"/><path class="e" d="M1696.51,131.86Q1694.52,90.75 1700.53,50.04"/><path class="e" d="M1746.6,-8H1800.3"/><path class="e" d="M1820.1,8H1761.6"/><text y="6" transform="translate(1710.7 48.2) rotate(-286.875)">1</text><text y="6" transform="translate(1719 120.3) rotate(-286.875)">1</text><text y="6" transform="translate(1703 119.5) rotate(-286.875)">2</text><text y="6" transform="translate(1694.7 47.4) rotate(-286.875)">2</text><text y="6" transform="translate(1758.7 -2.1) rotate(-286.875)">0</text><text y="6" transform="translate(1758.7 13.9) rotate(-286.875)">0</text></g>
<g transform="rotate(292.5)"><path class="e" d="M1717.25,35.85Q1719.24,76.96 1713.23,117.67"/><path class="e" d="M1696.51,131.86Q1694.52,90.75 1700.53,50.04"/><path class="e" d="M1746.6,-8H1798.7"/><path class="e" d="M1820.4,8H1761.6"/><text y="6" transform="translate(1710.7 48.2) rotate(-292.5)">1</text><text y="6" transform="translate(1719 120.3) rotate(-292.5)">1</text><text y="6" transform="translate(1703 119.5) rotate(-292.5)">2</text><text y="6" transform="translate(1694.7 47.4) rotate(-292.5)">2</text><text y="6" transform="translate(1758.7 -2.1) rotate(-292.5)">0</text><text y="6" transform="translate(1758.7 13.9) rotate(-292.5)">0</text></g>
<g transform="rotate(298.125)"><path class="e" d="M1717.25,35.85Q1719.24,76.96 1713.23,117.67"/><path class="e" d="M1696.51,131.86Q1694.52,90.75 1700.53,50.04"/><path class="e" d="M1746.6,-8H1796.9"/><path class="e" d="M1820.4,8H1761.6"/><text y="6" transform="translate(1710.7 48.2) rotate(-298.125)">1</text><text y="6" transform="translate(1719 120.3) rotate(-298.125)">1</text><text y="6" transform="translate(1703 119.5) rotate(-298.125)">2</text><text y="6" transform="translate(1694.7 47.4) rotate(-298.125)">2</text><text y="6" transform="translate(1758.7 -2.1) rotate(-298.125)">0</text><text y="6" transform="translate(1758.7 13.9) rotate(-298.125)">0</text></g>
<g transform="rotate(303.75)"><path class="e" d="M1717.25,35.85Q1719.24,76.96 1713.23,117.67"/><path class="e" d="M1696.51,131.86Q1694.52,90.75 1700.53,50.04"/><path class="e" d="M1746.6,-8H1794.6"/><path class="e" d="M1820.3,8H1761.6"/><text y="6" transform="translate(1710.7 48.2) rotate(-303.75)">1</text><text y="6" transform="translate(1719 120.3) rotate(-303.75)">1</text><text y="6" transform="translate(1703 119.5) rotate(-303.75)">2</text><text y="6" transform="translate(1694.7 47.4) rotate(-303.75)">2</text><text y="6" transform="translate(1758.7 -2.1) rotate(-303.75)">0</text><text y="6" transform="translate(1758.7 13.9) rotate(-303.75)">0</text></g>
<g transform="rotate(309.375)"><path class="e" d="M1717.25,35.85Q1719.24,76.96 1713.23,117.67"/><path class="e" d="M1696.51,131.86Q1694.52,90.75 1700.53,50.04"/><path class="e" d="M1746.6,-8H1791.8"/><path class="e" d="M1819.9,8H1761.6"/><text y="6" transform="translate(1710.7 48.2) rotate(-309.375)">1</text><text y="6" transform="translate(1719 120.3) rotate(-309.375)">1</text><text y="6" transform="translate(1703 119.5) rotate(-309.375)">2</text><text y="6" transform="translate(1694.7 47.4) rotate(-309.375)">2</text><text y="6" transform="translate(1758.7 -2.1) rotate(-309.375)">0</text><text y="6" transform="translate(1758.7 13.9) rotate(-309.375)">0</text></g>
<g transform="rotate(315)"><path class="e" d="M1717.25,35.85Q1719.24,76.96 1713.23,117.67"/><path class="e" d="M1696.51,131.86Q1694.52,90.75 1700.53,50.04"/><path class="e" d="M1746.6,-8H1788.3"/><path class="e" d="M1819.3,8H1761.6"/><text y="6" transform="translate(1710.7 48.2) rotate(-315)">1</text><text y="6" transform="translate(1719 120.3) rotate(-315)">1</text><text y="6" transform="translate(1703 119.5) rotate(-315)">2</text><text y="6" transform="translate(1694.7 47.4) rotate(-315)">2</text><text y="6" transform="translate(1758.7 -2.1) rotate(-315)">0</text><text y="6" transform="translate(1758.7 13.9) rotate(-315)">0</text></g>
<g transform="rotate(320.625)"><path class="e" d="M1717.25,35.85Q1719.24,76.96 1713.23,117.67"/><path class="e" d="M1696.51,131.86Q1694.52,90.75 1700.53,50.04"/><path class="e" d="M1746.6,-8H1788.1"/><path class="e" d="M1818.2,8H1761.6"/><text y="6" transform="translate(1710.7 48.2) rotate(-320.625)">1</text><text y="6" transform="translate(1719 120.3) rotate(-320.625)">1</text><text y="6" transform="translate(1703 119.5) rotate(-320.625)">2</text><text y="6" transform="translate(1694.7 47.4) rotate(-320.625)">2</text><text y="6" transform="translate(1758.7 -2.1) rotate(-320.625)">0</text><text y="6" transform="translate(1758.7 13.9) rotate(-320.625)">0</text></g>
<g transform="rotate(326.25)"><path class="e" d="M1717.25,35.85Q1719.24,76.96 1713.23,117.67"/><path class="e" d="M1696.51,131.86Q1694.52,90.75 1700.53,50.04"/><path class="e" d="M1746.6,-8H1789.7"/><path class="e" d="M1816.5,8H1761.6"/><text y="6" transform="translate(1710.7 48.2) rotate(-326.25)">1</text><text y="6" transform="translate(1719 120.3) rotate(-326.25)">1</text><text y="6" transform="translate(1703 119.5) rotate(-326.25)">2</text><text y="6" transform="translate(1694.7 47.4) rotate(-326.25)">2</text><text y="6" transform="translate(1758.7 -2.1) rotate(-326.25)">0</text><text y="6" transform="translate(1758.7 13.9) rotate(-326.25)">0</text></g>
<g transform="rotate(331.875)"><path class="e" d="M1717.25,35.85Q1719.24,76.96 1713.23,117.67"/><path class="e" d="M1696.51,131.86Q1694.52,90.75 1700.53,50.04"/><path class="e" d="M1746.6,-8H1790.7"/><path class="e" d="M1813.8,8H1761.6"/><text y="6" transform="translate(1710.7 48.2) rotate(-331.875)">1</text><text y="6" transform="translate(1719 120.3) rotate(-331.875)">1</text><text y="6" transform="translate(1703 119.5) rotate(-331.875)">2</text><text y="6" transform="translate(1694.7 47.4) rotate(-331.875)">2</text><text y="6" transform="translate(1758.7 -2.1) rotate(-331.875)">0</text><text y="6" transform="translate(1758.7 13.9) rotate(-331.875)">0</text></g>
<g transform="rotate(337.5)"><path class="e" d="M1717.25,35.85Q1719.24,76.96 1713.23,117.67"/><path class="e" d="M1696.51,131.86Q1694.52,90.75 1700.53,50.04"/><path class="e" d="M1746.6,-8H1791.3"/><path class="e" d="M1809.6,8H1761.6"/><text y="6" transform="translate(1710.7 48.2) rotate(-337.5)">1</text><text y="6" transform="translate(1719 120.3) rotate(-337.5)">1</text><text y="6" transform="translate(1703 119.5) rotate(-337.5)">2</text><text y="6" transform="translate(1694.7 47.4) rotate(-337.5)">2</text><text y="6" transform="translate(1758.7 -2.1) rotate(-337.5)">0</text><text y="6" transform="translate(1758.7 13.9) rotate(-337.5)">0</text></g>
<g transform="rotate(343.125)"><path class="e" d="M1717.25,35.85Q1719.24,76.96 1713.23,117.67"/><path class="e" d="M1696.51,131.86Q1694.52,90.75 1700.53,50.04"/><path class="e" d="M1746.6,-8H1791.6"/><path class="e" d="M1802.1,8H1761.6"/><text y="6" transform="translate(1710.7 48.2) rotate(-343.125)">1</text><text y="6" transform="translate(1719 120.3) rotate(-343.125)">1</text><text y="6" transform="translate(1703 119.5) rotate(-343.125)">2</text><text y="6" transform="translate(1694.7 47.4) rotate(-343.125)">2</text><text y="6" transform="translate(1758.7 -2.1) rotate(-343.125)">0</text><text y="6" transform="translate(1758.7 13.9) rotate(-343.125)">0</text></g>
<g transform="rotate(348.75)"><path class="e" d="M1717.25,35.85Q1719.24,76.96 1713.23,117.67"/><path class="e" d="M1696.51,131.86Q1694.52,90.75 1700.53,50.04"/><path class="e" d="M1746.6,-8H1791.5"/><path class="e" d="M1803.3,8H1761.6"/><text y="6" transform="translate(1710.7 48.2) rotate(-348.75)">1</text><text y="6" transform="translate(1719 120.3) rotate(-348.75)">1</text><text y="6" transform="translate(1703 119.5) rotate(-348.75)">2</text><text y="6" transform="translate(1694.7 47.4) rotate(-348.75)">2</text><text y="6" transform="translate(1758.7 -2.1) rotate(-348.75)">0</text><text y="6" transform="translate(1758.7 13.9) rotate(-348.75)">0</text></g>
<g transform="rotate(354.375)"><path class="e" d="M1717.25,35.85Q1719.24,76.96 1713.23,117.67"/><path class="e" d="M1696.51,131.86Q1694.52,90.75 1700.53,50.04"/><path class="e" d="M1746.6,-8H1791.1"/><path class="e" d="M1804.6,8H1761.6"/><text y="6" transform="translate(1710.7 48.2) rotate(-354.375)">1</text><text y="6" transform="translate(1719 120.3) rotate(-354.375)">1</text><text y="6" transform="translate(1703 119.5) rotate(-354.375)">2</text><text y="6" transform="translate(1694.7 47.4) rotate(-354.375)">2</text><text y="6" transform="translate(1758.7 -2.1) rotate(-354.375)">0</text><text y="6" transform="translate(1758.7 13.9) rotate(-354.375)">0</text></g>
<g transform="rotate(360)"><path class="e" d="M1717.25,35.85Q1719.24,76.96 1713.23,117.67"/><path class="e" d="M1696.51,131.86Q1694.52,90.75 1700.53,50.04"/><path class="e" d="M1746.6,-8H1790.5"/><path class="e" d="M1805.5,8H1761.6"/><text y="6" transform="translate(1710.7 48.2) rotate(-360)">1</text><text y="6" transform="translate(1719 120.3) rotate(-360)">1</text><text y="6" transform="translate(1703 119.5) rotate(-360)">2</text><text y="6" transform="translate(1694.7 47.4) rotate(-360)">2</text><text y="6" transform="translate(1758.7 -2.1) rotate(-360)">0</text><text y="6" transform="translate(1758.7 13.9) rotate(-360)">0</text></g>
</g>
<g id="R0" class="r" transform="translate(1869 1859) rotate(5.625) translate(1711 0) rotate(-5.625)"><circle r="35"/><text y="6.5">R0</text></g>
<g id="R1" class="r" transform="translate(1869 1859) rotate(11.25) translate(1711 0) rotate(-11.25)"><circle r="35"/><text y="6.5">R1</text></g>
<g id="R2" class="r" transform="translate(1869 1859) rotate(16.875) translate(1711 0) rotate(-16.875)"><circle r="35"/><text y="6.5">R2</text></g>
<g id="R3" class="r" transform="translate(1869 1859) rotate(22.5) translate(1711 0) rotate(-22.5)"><circle r="35"/><text y="6.5">R3</text></g>
<g id="R4" class="r" transform="translate(1869 1859) rotate(28.125) translate(1711 0) rotate(-28.125)"><circle r="35"/><text y="6.5">R4</text></g>
<g id="R5" class="r" transform="translate(1869 1859) rotate(33.75) translate(1711 0) rotate(-33.75)"><circle r="35"/><text y="6.5">R5</text></g>
<g id="R6" class="r" transform="translate(1869 1859) rotate(39.375) translate(1711 0) rotate(-39.375)"><circle r="35"/><text y="6.5">R6</text></g>
<g id="R7" class="r" transform="translate(1869 1859) rotate(45) translate(1711 0) rotate(-45)"><circle r="35"/><text y="6.5">R7</text></g>
<g id="R8" class="r" transform="translate(1869 1859) rotate(50.625) translate(1711 0) rotate(-50.625)"><circle r="35"/><text y="6.5">R8</text></g>
<g id="R9" class="r" transform="translate(1869 1859) rotate(56.25) translate(1711 0) rotate(-56.25)"><circle r="35"/><text y="6.5">R9</text></g>
<g id="R10" class="r" transform="translate(1869 1859) rotate(61.875) translate(1711 0) rotate(-61.875)"><circle r="35"/><text y="6.5">R10</text></g>
<g id="R11" class="r" transform="translate(1869 1859) rotate(67.5) translate(1711 0) rotate(-67.5)"><circle r="35"/><text y="6.5">R11</text></g>
<g id="R12" class="r" transform="translate(1869 1859) rotate(73.125) translate(1711 0) rotate(-73.125)"><circle r="35"/><text y="6.5">R12</text></g>
<g id="R13" class="r" transform="translate(1869 1859) rotate(78.75) translate(1711 0) rotate(-78.75)"><circle r="35"/><text y="6.5">R13</text></g>
<g id="R14" class="r" transform="translate(1869 1859) rotate(84.375) translate(1711 0) rotate(-84.375)"><circle r="35"/><text y="6.5">R14</text></g>
<g id="R15" class="r" transform="translate(1869 1859) rotate(90) translate(1711 0) rotate(-90)"><circle r="35"/><text y="6.5">R15</text></g>
<g id="R16" class="r" transform="translate(1869 1859) rotate(95.625) translate(1711 0) rotate(-95.625)"><circle r="35"/><text y="6.5">R16</text></g>
<g id="R17" class="r" transform="translate(1869 1859) rotate(101.25) translate(1711 0) rotate(-101.25)"><circle r="35"/><text y="6.5">R17</text></g>
<g id="R18" class="r" transform="translate(1869 1859) rotate(106.875) translate(1711 0) rotate(-106.875)"><circle r="35"/><text y="6.5">R18</text></g>
<g id="R19" class="r" transform="translate(1869 1859) rotate(112.5) translate(1711 0) rotate(-112.5)"><circle r="35"/><text y="6.5">R19</text></g>
<g id="R20" class="r" transform="translate(1869 1859) rotate(118.125) translate(1711 0) rotate(-118.125)"><circle r="35"/><text y="6.5">R20</text></g>
<g id="R21" class="r" transform="translate(1869 1859) rotate(123.75) translate(1711 0) rotate(-123.75)"><circle r="35"/><text y="6.5">R21</text></g>
<g id="R22" class="r" transform="translate(1869 1859) rotate(129.375) translate(1711 0) rotate(-129.375)"><circle r="35"/><text y="6.5">R22</text></g>
<g id="R23" class="r" transform="translate(1869 1859) rotate(135) translate(1711 0) rotate(-135)"><circle r="35"/><text y="6.5">R23</text></g>
<g id="R24" class="r" transform="translate(1869 1859) rotate(140.625) translate(1711 0) rotate(-140.625)"><circle r="35"/><text y="6.5">R24</text></g>
<g id="R25" class="r" transform="translate(1869 1859) rotate(146.25) translate(1711 0) rotate(-146.25)"><circle r="35"/><text y="6.5">R25</text></g>
<g id="R26" class="r" transform="translate(1869 1859) rotate(151.875) translate(1711 0) rotate(-151.875)"><circle r="35"/><text y="6.5">R26</text></g>
<g id="R27" class="r" transform="translate(1869 1859) rotate(157.5) translate(1711 0) rotate(-157.5)"><circle r="35"/><text y="6.5">R27</text></g>
<g id="R28" class="r" transform="translate(1869 1859) rotate(163.125) translate(1711 0) rotate(-163.125)"><circle r="35"/><text y="6.5">R28</text></g>
<g id="R29" class="r" transform="translate(1869 1859) rotate(168.75) translate(1711 0) rotate(-168.75)"><circle r="35"/><text y="6.5">R29</text></g>
<g id="R30" class="r" transform="translate(1869 1859) rotate(174.375) translate(1711 0) rotate(-174.375)"><circle r="35"/><text y="6.5">R30</text></g>
<g id="R31" class="r" transform="translate(1869 1859) rotate(180) translate(1711 0) rotate(-180)"><circle r="35"/><text y="6.5">R31</text></g>
<g id="R32" class="r" transform="translate(1869 1859) rotate(185.625) translate(1711 0) rotate(-185.625)"><circle r="35"/><text y="6.5">R32</text></g>
<g id="R33" class="r" transform="translate(1869 1859) rotate(191.25) translate(1711 0) rotate(-191.25)"><circle r="35"/><text y="6.5">R33</text></g>
<g id="R34" class="r" transform="translate(1869 1859) rotate(196.875) translate(1711 0) rotate(-196.875)"><circle r="35"/><text y="6.5">R34</text></g>
<g id="R35" class="r" transform="translate(1869 1859) rotate(202.5) translate(1711 0) rotate(-202.5)"><circle r="35"/><text y="6.5">R35</text></g>
<g id="R36" class="r" transform="translate(1869 1859) rotate(208.125) translate(1711 0) rotate(-208.125)"><circle r="35"/><text y="6.5">R36</text></g>
<g id="R37" class="r" transform="translate(1869 1859) rotate(213.75) translate(1711 0) rotate(-213.75)"><circle r="35"/><text y="6.5">R37</text></g>
<g id="R38" class="r" transform="translate(1869 1859) rotate(219.375) translate(1711 0) rotate(-219.375)"><circle r="35"/><text y="6.5">R38</text></g>
<g id="R39" class="r" transform="translate(1869 1859) rotate(225) translate(1711 0) rotate(-225)"><circle r="35"/><text y="6.5">R39</text></g>
<g id="R40" class="r" transform="translate(1869 1859) rotate(230.625) translate(1711 0) rotate(-230.625)"><circle r="35"/><text y="6.5">R40</text></g>
<g id="R41" class="r" transform="translate(1869 1859) rotate(236.25) translate(1711 0) rotate(-236.25)"><circle r="35"/><text y="6.5">R41</text></g>
<g id="R42" class="r" transform="translate(1869 1859) rotate(241.875) translate(1711 0) rotate(-241.875)"><circle r="35"/><text y="6.5">R42</text></g>
<g id="R43" class="r" transform="translate(1869 1859) rotate(247.5) translate(1711 0) rotate(-247.5)"><circle r="35"/><text y="6.5">R43</text></g>
<g id="R44" class="r" transform="translate(1869 1859) rotate(253.125) translate(1711 0) rotate(-253.125)"><circle r="35"/><text y="6.5">R44</text></g>
<g id="R45" class="r" transform="translate(1869 1859) rotate(258.75) translate(1711 0) rotate(-258.75)"><circle r="35"/><text y="6.5">R45</text></g>
<g id="R46" class="r" transform="translate(1869 1859) rotate(264.375) translate(1711 0) rotate(-264.375)"><circle r="35"/><text y="6.5">R46</text></g>
<g id="R47" class="r" transform="translate(1869 1859) rotate(270) translate(1711 0) rotate(-270)"><circle r="35"/><text y="6.5">R47</text></g>
<g id="R48" class="r" transform="translate(1869 1859) rotate(275.625) translate(1711 0) rotate(-275.625)"><circle r="35"/><text y="6.5">R48</text></g>
<g id="R49" class="r" transform="translate(1869 1859) rotate(281.25) translate(1711 0) rotate(-281.25)"><circle r="35"/><text y="6.5">R49</text></g>
<g id="R50" class="r" transform="translate(1869 1859) rotate(286.875) translate(1711 0) rotate(-286.875)"><circle r="35"/><text y="6.5">R50</text></g>
<g id="R51" class="r" transform="translate(1869 1859) rotate(292.5) translate(1711 0) rotate(-292.5)"><circle r="35"/><text y="6.5">R51</text></g>
<g id="R52" class="r" transform="translate(1869 1859) rotate(298.125) translate(1711 0) rotate(-298.125)"><circle r="35"/><text y="6.5">R52</text></g>
<g id="R53" class="r" transform="translate(1869 1859) rotate(303.75) translate(1711 0) rotate(-303.75)"><circle r="35"/><text y="6.5">R53</text></g>
<g id="R54" class="r" transform="translate(1869 1859) rotate(309.375) translate(1711 0) rotate(-309.375)"><circle r="35"/><text y="6.5">R54</text></g>
<g id="R55" class="r" transform="translate(1869 1859) rotate(315) translate(1711 0) rotate(-315)"><circle r="35"/><text y="6.5">R55</text></g>
<g id="R56" class="r" transform="translate(1869 1859) rotate(320.625) translate(1711 0) rotate(-320.625)"><circle r="35"/><text y="6.5">R56</text></g>
<g id="R57" class="r" transform="translate(1869 1859) rotate(326.25) translate(1711 0) rotate(-326.25)"><circle r="35"/><text y="6.5">R57</text></g>
<g id="R58" class="r" transform="translate(1869 1859) rotate(331.875) translate(1711 0) rotate(-331.875)"><circle r="35"/><text y="6.5">R58</text></g>
<g id="R59" class="r" transform="translate(1869 1859) rotate(337.5) translate(1711 0) rotate(-337.5)"><circle r="35"/><text y="6.5">R59</text></g>
<g id="R60" class="r" transform="translate(1869 1859) rotate(343.125) translate(1711 0) rotate(-343.125)"><circle r="35"/><text y="6.5">R60</text></g>
<g id="R61" class="r" transform="translate(1869 1859) rotate(348.75) translate(1711 0) rotate(-348.75)"><circle r="35"/><text y="6.5">R61</text></g>
<g id="R62" class="r" transform="translate(1869 1859) rotate(354.375) translate(1711 0) rotate(-354.375)"><circle r="35"/><text y="6.5">R62</text></g>
<g id="R63" class="r" transform="translate(1869 1859) rotate(360) translate(1711 0) rotate(-360)"><circle r="35"/><text y="6.5">R63</text></g>
<g id="N0" class="n" transform="translate(1869 1859) rotate(5.625) translate(1836 0) rotate(-5.625)"><rect x="-24.5" y="-17" width="49" height="34" rx="9"/><text y="6.5">N0</text></g>
<g id="N1" class="n" transform="translate(1869 1859) rotate(11.25) translate(1836 0) rotate(-11.25)"><rect x="-24.5" y="-17" width="49" height="34" rx="9"/><text y="6.5">N1</text></g>
<g id="N2" class="n" transform="translate(1869 1859) rotate(16.875) translate(1836 0) rotate(-16.875)"><rect x="-24.5" y="-17" width="49" height="34" rx="9"/><text y="6.5">N2</text></g>
<g id="N3" class="n" transform="translate(1869 1859) rotate(22.5) translate(1836 0) rotate(-22.5)"><rect x="-24.5" y="-17" width="49" height="34" rx="9"/><text y="6.5">N3</text></g>
<g id="N4" class="n" transform="translate(1869 1859) rotate(28.125) translate(1836 0) rotate(-28.125)"><rect x="-24.5" y="-17" width="49" height="34" rx="9"/><text y="6.5">N4</text></g>
<g id="N5" class="n" transform="translate(1869 1859) rotate(33.75) translate(1836 0) rotate(-33.75)"><rect x="-24.5" y="-17" width="49" height="34" rx="9"/><text y="6.5">N5</text></g>
<g id="N6" class="n" transform="translate(1869 1859) rotate(39.375) translate(1836 0) rotate(-39.375)"><rect x="-24.5" y="-17" width="49" height="34" rx="9"/><text y="6.5">N6</text></g>
<g id="N7" class="n" transform="translate(1869 1859) rotate(45) translate(1836 0) rotate(-45)"><rect x="-24.5" y="-17" width="49" height="34" rx="9"/><text y="6.5">N7</text></g>
<g id="N8" class="n" transform="translate(1869 1859) rotate(50.625) translate(1836 0) rotate(-50.625)"><rect x="-24.5" y="-17" width="49" height="34" rx="9"/><text y="6.5">N8</text></g>
<g id="N9" class="n" transform="translate(1869 1859) rotate(56.25) translate(1836 0) rotate(-56.25)"><rect x="-24.5" y="-17" width="49" height="34" rx="9"/><text y="6.5">N9</text></g>
<g id="N10" class="n" transform="translate(1869 1859) rotate(61.875) translate(1836 0) rotate(-61.875)"><rect x="-30" y="-17" width="60" height="34" rx="9"/><text y="6.5">N10</text></g>
<g id="N11" class="n" transform="translate(1869 1859) rotate(67.5) translate(1836 0) rotate(-67.5)"><rect x="-30" y="-17" width="60" height="34" rx="9"/><text y="6.5">N11</text></g>
<g id="N12" class="n" transform="translate(1869 1859) rotate(73.125) translate(1836 0) rotate(-73.125)"><rect x="-30" y="-17" width="60" height="34" rx="9"/><text y="6.5">N12</text></g>
<g id="N13" class="n" transform="translate(1869 1859) rotate(78.75) translate(1836 0) rotate(-78.75)"><rect x="-30" y="-17" width="60" height="34" rx="9"/><text y="6.5">N13</text></g>
<g id="N14" class="n" transform="translate(1869 1859) rotate(84.375) translate(1836 0) rotate(-84.375)"><rect x="-30" y="-17" width="60" height="34" rx="9"/><text y="6.5">N14</text></g>
<g id="N15" class="n" transform="translate(1869 1859) rotate(90) translate(1836 0) rotate(-90)"><rect x="-30" y="-17" width="60" height="34" rx="9"/><text y="6.5">N15</text></g>
<g id="N16" class="n" transform="translate(1869 1859) rotate(95.625) translate(1836 0) rotate(-95.625)"><rect x="-30" y="-17" width="60" height="34" rx="9"/><text y="6.5">N16</text></g>
<g id="N17" class="n" transform="translate(1869 1859) rotate(101.25) translate(1836 0) rotate(-101.25)"><rect x="-30" y="-17" width="60" height="34" rx="9"/><text y="6.5">N17</text></g>
<g id="N18" class="n" transform="translate(1869 1859) rotate(106.875) translate(1836 0) rotate(-106.875)"><rect x="-30" y="-17" width="60" height="34" rx="9"/><text y="6.5">N18</text></g>
<g id="N19" class="n" transform="translate(1869 1859) rotate(112.5) translate(1836 0) rotate(-112.5)"><rect x="-30" y="-17" width="60" height="34" rx="9"/><text y="6.5">N19</text></g>
<g id="N20" class="n" transform="translate(1869 1859) rotate(118.125) translate(1836 0) rotate(-118.125)"><rect x="-30" y="-17" width="60" height="34" rx="9"/><text y="6.5">N20</text></g>
<g id="N21" class="n" transform="translate(1869 1859) rotate(123.75) translate(1836 0) rotate(-123.75)"><rect x="-30" y="-17" width="60" height="34" rx="9"/><text y="6.5">N21</text></g>
<g id="N22" class="n" transform="translate(1869 1859) rotate(129.375) translate(1836 0) rotate(-129.375)"><rect x="-30" y="-17" width="60" height="34" rx="9"/><text y="6.5">N22</text></g>
<g id="N23" class="n" transform="translate(1869 1859) rotate(135) translate(1836 0) rotate(-135)"><rect x="-30" y="-17" width="60" height="34" rx="9"/><text y="6.5">N23</text></g>
<g id="N24" class="n" transform="translate(1869 1859) rotate(140.625) translate(1836 0) rotate(-140.625)"><rect x="-30" y="-17" width="60" height="34" rx="9"/><text y="6.5">N24</text></g>
<g id="N25" class="n" transform="translate(1869 1859) rotate(146.25) translate(1836 0) rotate(-146.25)"><rect x="-30" y="-17" width="60" height="34" rx="9"/><text y="6.5">N25</text></g>
<g id="N26" class="n" transform="translate(1869 1859) rotate(151.875) translate(1836 0) rotate(-151.875)"><rect x="-30" y="-17" width="60" height="34" rx="9"/><text y="6.5">N26</text></g>
<g id="N27" class="n" transform="translate(1869 1859) rotate(157.5) translate(1836 0) rotate(-157.5)"><rect x="-30" y="-17" width="60" height="34" rx="9"/><text y="6.5">N27</text></g>
<g id="N28" class="n" transform="translate(1869 1859) rotate(163.125) translate(1836 0) rotate(-163.125)"><rect x="-30" y="-17" width="60" height="34" rx="9"/><text y="6.5">N28</text></g>
<g id="N29" class="n" transform="translate(1869 1859) rotate(168.75) translate(1836 0) rotate(-168.75)"><rect x="-30" y="-17" width="60" height="34" rx="9"/><text y="6.5">N29</text></g>
<g id="N30" class="n" transform="translate(1869 1859) rotate(174.375) translate(1836 0) rotate(-174.375)"><rect x="-30" y="-17" width="60" height="34" rx="9"/><text y="6.5">N30</text></g>
<g id="N31" class="n" transform="translate(1869 1859) rotate(180) translate(1836 0) rotate(-180)"><rect x="-30" y="-17" width="60" height="34" rx="9"/><text y="6.5">N31</text></g>
<g id="N32" class="n" transform="translate(1869 1859) rotate(185.625) translate(1836 0) rotate(-185.625)"><rect x="-30" y="-17" width="60" height="34" rx="9"/><text y="6.5">N32</text></g>
<g id="N33" class="n" transform="translate(1869 1859) rotate(191.25) translate(1836 0) rotate(-191.25)"><rect x="-30" y="-17" width="60" height="34" rx="9"/><text y="6.5">N33</text></g>
<g id="N34" class="n" transform="translate(1869 1859) rotate(196.875) translate(1836 0) rotate(-196.875)"><rect x="-30" y="-17" width="60" height="34" rx="9"/><text y="6.5">N34</text></g>
<g id="N35" class="n" transform="translate(1869 1859) rotate(202.5) translate(1836 0) rotate(-202.5)"><rect x="-30" y="-17" width="60" height="34" rx="9"/><text y="6.5">N35</text></g>
<g id="N36" class="n" transform="translate(1869 1859) rotate(208.125) translate(1836 0) rotate(-208.125)"><rect x="-30" y="-17" width="60" height="34" rx="9"/><text y="6.5">N36</text></g>
<g id="N37" class="n" transform="translate(1869 1859) rotate(213.75) translate(1836 0) rotate(-213.75)"><rect x="-30" y="-17" width="60" height="34" rx="9"/><text y="6.5">N37</text></g>
<g id="N38" class="n" transform="translate(1869 1859) rotate(219.375) translate(1836 0) rotate(-219.375)"><rect x="-30" y="-17" width="60" height="34" rx="9"/><text y="6.5">N38</text></g>
<g id="N39" class="n" transform="translate(1869 1859) rotate(225) translate(1836 0) rotate(-225)"><rect x="-30" y="-17" width="60" height="34" rx="9"/><text y="6.5">N39</text></g>
<g id="N40" class="n" transform="translate(1869 1859) rotate(230.625) translate(1836 0) rotate(-230.625)"><rect x="-30" y="-17" width="60" height="34" rx="9"/><text y="6.5">N40</text></g>
<g id="N41" class="n" transform="translate(1869 1859) rotate(236.25) translate(1836 0) rotate(-236.25)"><rect x="-30" y="-17" width="60" height="34" rx="9"/><text y="6.5">N41</text></g>
<g id="N42" class="n" transform="translate(1869 1859) rotate(241.875) translate(1836 0) rotate(-241.875)"><rect x="-30" y="-17" width="60" height="34" rx="9"/><text y="6.5">N42</text></g>
<g id="N43" class="n" transform="translate(1869 1859) rotate(247.5) translate(1836 0) rotate(-247.5)"><rect x="-30" y="-17" width="60" height="34" rx="9"/><text y="6.5">N43</text></g>
<g id="N44" class="n" transform="translate(1869 1859) rotate(253.125) translate(1836 0) rotate(-253.125)"><rect x="-30" y="-17" width="60" height="34" rx="9"/><text y="6.5">N44</text></g>
<g id="N45" class="n" transform="translate(1869 1859) rotate(258.75) translate(1836 0) rotate(-258.75)"><rect x="-30" y="-17" width="60" height="34" rx="9"/><text y="6.5">N45</text></g>
<g id="N46" class="n" transform="translate(1869 1859) rotate(264.375) translate(1836 0) rotate(-264.375)"><rect x="-30" y="-17" width="60" height="34" rx="9"/><text y="6.5">N46</text></g>
<g id="N47" class="n" transform="translate(1869 1859) rotate(270) translate(1836 0) rotate(-270)"><rect x="-30" y="-17" width="60" height="34" rx="9"/><text y="6.5">N47</text></g>
<g id="N48" class="n" transform="translate(1869 1859) rotate(275.625) translate(1836 0) rotate(-275.625)"><rect x="-30" y="-17" width="60" height="34" rx="9"/><text y="6.5">N48</text></g>
<g id="N49" class="n" transform="translate(1869 1859) rotate(281.25) translate(1836 0) rotate(-281.25)"><rect x="-30" y="-17" width="60" height="34" rx="9"/><text y="6.5">N49</text></g>
<g id="N50" class="n" transform="translate(1869 1859) rotate(286.875) translate(1836 0) rotate(-286.875)"><rect x="-30" y="-17" width="60" height="34" rx="9"/><text y="6.5">N50</text></g>
<g id="N51" class="n" transform="translate(1869 1859) rotate(292.5) translate(1836 0) rotate(-292.5)"><rect x="-30" y="-17" width="60" height="34" rx="9"/><text y="6.5">N51</text></g>
<g id="N52" class="n" transform="translate(1869 1859) rotate(298.125) translate(1836 0) rotate(-298.125)"><rect x="-30" y="-17" width="60" height="34" rx="9"/><text y="6.5">N52</text></g>
<g id="N53" class="n" transform="translate(1869 1859) rotate(303.75) translate(1836 0) rotate(-303.75)"><rect x="-30" y="-17" width="60" height="34" rx="9"/><text y="6.5">N53</text></g>
<g id="N54" class="n" transform="translate(1869 1859) rotate(309.375) translate(1836 0) rotate(-309.375)"><rect x="-30" y="-17" width="60" height="34" rx="9"/><text y="6.5">N54</text></g>
<g id="N55" class="n" transform="translate(1869 1859) rotate(315) translate(1836 0) rotate(-315)"><rect x="-30" y="-17" width="60" height="34" rx="9"/><text y="6.5">N55</text></g>
<g id="N56" class="n" transform="translate(1869 1859) rotate(320.625) translate(1836 0) rotate(-320.625)"><rect x="-30" y="-17" width="60" height="34" rx="9"/><text y="6.5">N56</text></g>
<g id="N57" class="n" transform="translate(1869 1859) rotate(326.25) translate(1836 0) rotate(-326.25)"><rect x="-30" y="-17" width="60" height="34" rx="9"/><text y="6.5">N57</text></g>
<g id="N58" class="n" transform="translate(1869 1859) rotate(331.875) translate(1836 0) rotate(-331.875)"><rect x="-30" y="-17" width="60" height="34" rx="9"/><text y="6.5">N58</text></g>
<g id="N59" class="n" transform="translate(1869 1859) rotate(337.5) translate(1836 0) rotate(-337.5)"><rect x="-30" y="-17" width="60" height="34" rx="9"/><text y="6.5">N59</text></g>
<g id="N60" class="n" transform="translate(1869 1859) rotate(343.125) translate(1836 0) rotate(-343.125)"><rect x="-30" y="-17" width="60" height="34" rx="9"/><text y="6.5">N60</text></g>
<g id="N61" class="n" transform="translate(1869 1859) rotate(348.75) translate(1836 0) rotate(-348.75)"><rect x="-30" y="-17" width="60" height="34" rx="9"/><text y="6.5">N61</text></g>
<g id="N62" class="n" transform="translate(1869 1859) rotate(354.375) translate(1836 0) rotate(-354.375)"><rect x="-30" y="-17" width="60" height="34" rx="9"/><text y="6.5">N62</text></g>
<g id="N63" class="n" transform="translate(1869 1859) rotate(360) translate(1836 0) rotate(-360)"><rect x="-30" y="-17" width="60" height="34" rx="9"/><text y="6.5">N63</text></g>
</svg>
